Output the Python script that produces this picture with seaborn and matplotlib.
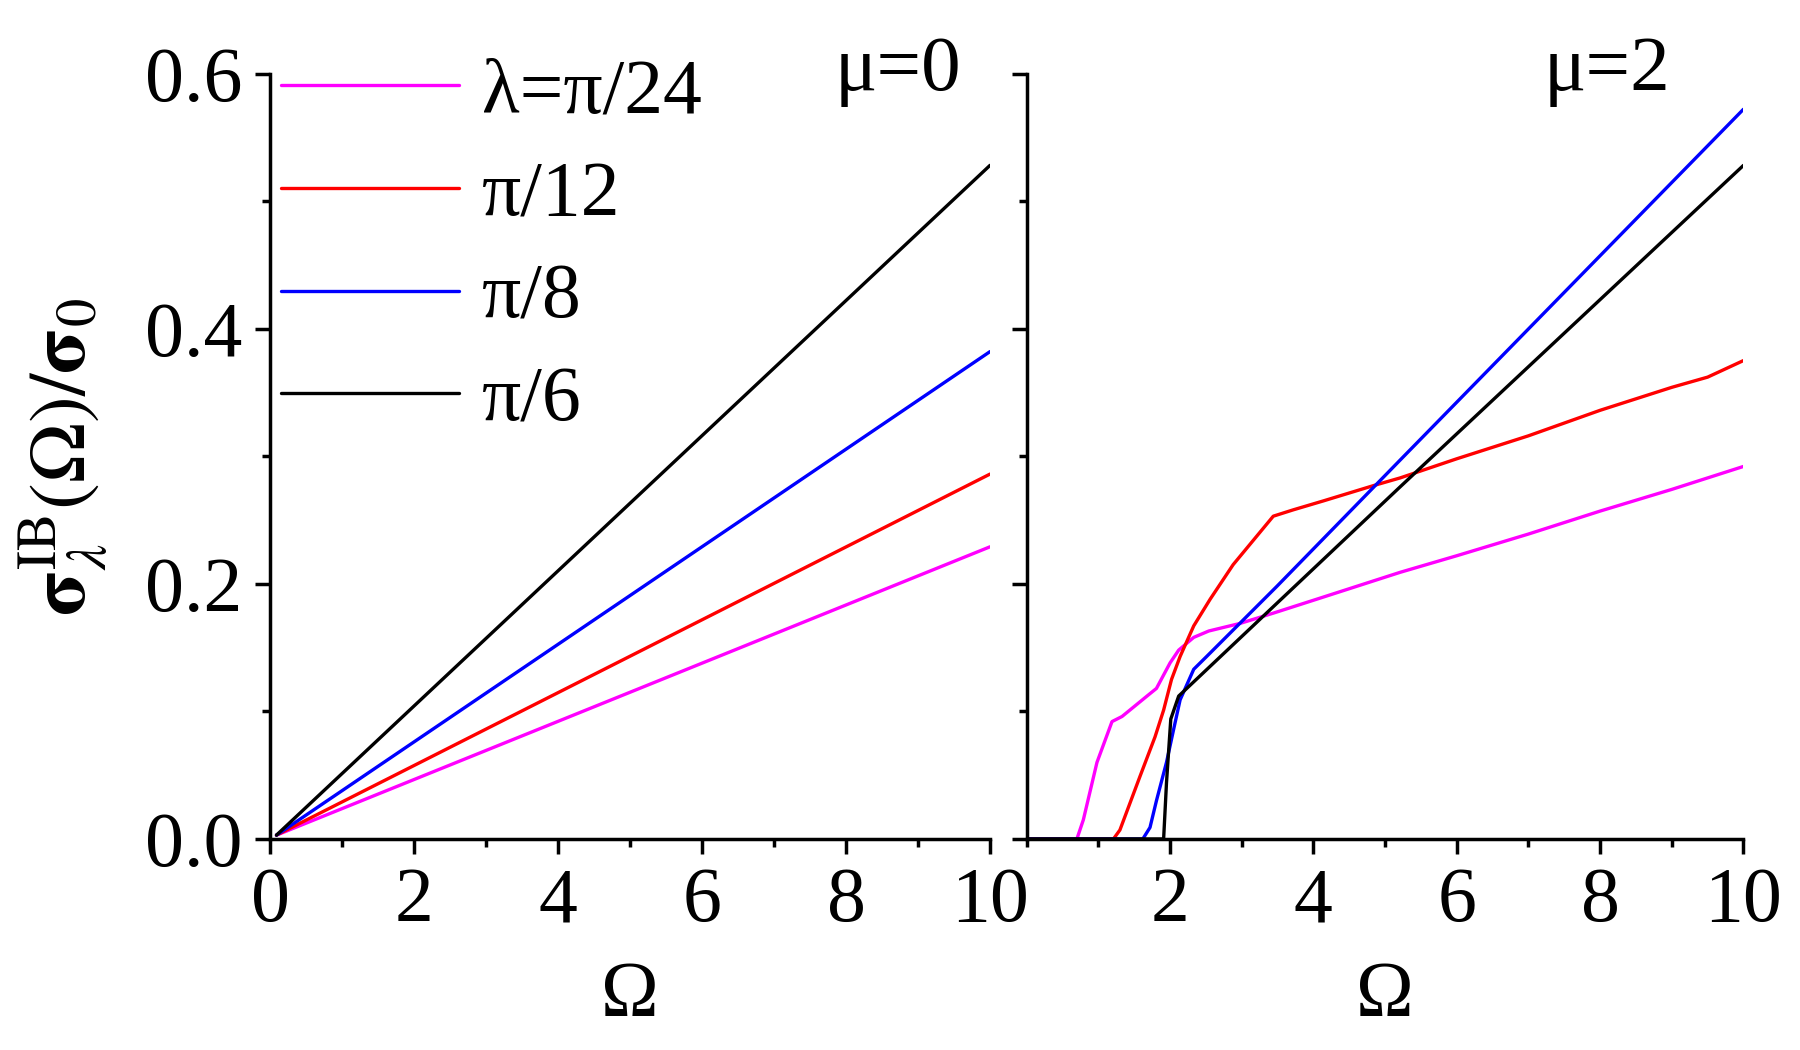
import pandas as pd
import numpy as np
import matplotlib
matplotlib.use("Agg")
import matplotlib.pyplot as plt
import seaborn as sns
from matplotlib.ticker import MultipleLocator, FormatStrFormatter

# labels / colours of the four curves
labels = ["λ=π/24", "π/12", "π/8", "π/6"]
colors = ["#FF00FF", "#FF0000", "#0000FF", "#000000"]

# left panel, mu = 0 (straight lines)
x_mu0 = [0.09, 10.0]
y_mu0_24 = [0.003, 0.229]
y_mu0_12 = [0.003, 0.286]
y_mu0_8 = [0.003, 0.382]
y_mu0_6 = [0.003, 0.528]

# right panel, mu = 2
x_mu2_24 = [0.0, 0.70, 0.79, 0.98, 1.19, 1.33, 1.70, 1.81, 2.00, 2.12, 2.33, 2.54, 2.98, 3.44, 4.05, 5.21, 6.0, 7.0, 8.0, 9.0, 10.0]
y_mu2_24 = [0.0, 0.0, 0.015, 0.060, 0.092, 0.096, 0.113, 0.118, 0.138, 0.148, 0.158, 0.163, 0.169, 0.177, 0.188, 0.209, 0.222, 0.239, 0.257, 0.274, 0.292]

x_mu2_12 = [0.0, 1.21, 1.30, 1.58, 1.79, 1.91, 2.02, 2.14, 2.33, 2.56, 2.88, 3.44, 3.72, 4.14, 4.84, 5.21, 6.0, 7.0, 8.0, 9.0, 9.5, 10.0]
y_mu2_12 = [0.0, 0.0, 0.007, 0.049, 0.080, 0.101, 0.125, 0.143, 0.167, 0.188, 0.215, 0.253, 0.258, 0.265, 0.277, 0.283, 0.298, 0.316, 0.336, 0.354, 0.362, 0.375]

x_mu2_8 = [0.0, 1.62, 1.72, 1.81, 1.95, 2.05, 2.14, 2.33, 2.51, 3.49, 5.21, 10.0]
y_mu2_8 = [0.0, 0.0, 0.009, 0.030, 0.060, 0.086, 0.109, 0.133, 0.143, 0.198, 0.297, 0.572]

x_mu2_6 = [0.0, 1.91, 1.95, 2.01, 2.12, 5.21, 10.0]
y_mu2_6 = [0.0, 0.0, 0.044, 0.094, 0.112, 0.276, 0.528]


def long_frame(xs, ys):
    parts = []
    for lab, x, y in zip(labels, xs, ys):
        parts.append(pd.DataFrame({"x": x, "y": y, "lam": lab}))
    return pd.concat(parts, ignore_index=True)


df0 = long_frame([x_mu0] * 4, [y_mu0_24, y_mu0_12, y_mu0_8, y_mu0_6])
df2 = long_frame([x_mu2_24, x_mu2_12, x_mu2_8, x_mu2_6],
                 [y_mu2_24, y_mu2_12, y_mu2_8, y_mu2_6])

sns.set_style("ticks")
plt.rcParams["font.family"] = ["Liberation Serif", "DejaVu Serif"]
plt.rcParams["mathtext.fontset"] = "stix"
for k in ("text.color", "axes.labelcolor", "xtick.color", "ytick.color", "axes.edgecolor"):
    plt.rcParams[k] = "black"

fig = plt.figure(figsize=(18, 10.5), dpi=100)
ax1 = fig.add_axes([0.15, 0.201, 0.40, 0.729])
ax2 = fig.add_axes([0.5704, 0.201, 0.3982, 0.729])

pal = dict(zip(labels, colors))
sns.lineplot(data=df0, x="x", y="y", hue="lam", hue_order=labels, palette=pal,
             estimator=None, sort=False, linewidth=2.4, ax=ax1)
sns.lineplot(data=df2, x="x", y="y", hue="lam", hue_order=labels, palette=pal,
             estimator=None, sort=False, linewidth=2.4, ax=ax2, legend=False)

for ax in (ax1, ax2):
    ax.set_xlim(0, 10)
    ax.set_ylim(0, 0.6)
    ax.xaxis.set_major_locator(MultipleLocator(2))
    ax.xaxis.set_minor_locator(MultipleLocator(1))
    ax.yaxis.set_major_locator(MultipleLocator(0.2))
    ax.yaxis.set_minor_locator(MultipleLocator(0.1))
    ax.tick_params(which="major", length=11, width=2.5, labelsize=56, pad=9)
    ax.tick_params(which="minor", length=6, width=2.5)
    for s in ("top", "right"):
        ax.spines[s].set_visible(False)
    for s in ("left", "bottom"):
        ax.spines[s].set_linewidth(2.5)
    ax.set_xlabel("Ω", fontsize=56, labelpad=16)
    ax.set_ylabel("")

ax1.yaxis.set_major_formatter(FormatStrFormatter("%.1f"))
ax1.set_ylabel(r"$\mathbf{\sigma}_{\lambda}^{\rm IB}(\Omega)/\mathbf{\sigma}_0$", fontsize=58, labelpad=24)
ax2.set_yticklabels([])
ax2.set_xticks([2, 4, 6, 8, 10])

ax1.text(0.872, 1.003, "μ=0", transform=ax1.transAxes, fontsize=57, ha="center", va="center")
ax2.text(0.81, 1.003, "μ=2", transform=ax2.transAxes, fontsize=57, ha="center", va="center")

leg = ax1.legend(loc="upper left", bbox_to_anchor=(0.015, 1.02), frameon=False,
                 fontsize=56, handlelength=2.29, handletextpad=0.3,
                 labelspacing=0.4, borderpad=0, borderaxespad=0)
for h in leg.get_lines():
    h.set_linewidth(2.4)

fig.savefig("out.png", dpi=100)
